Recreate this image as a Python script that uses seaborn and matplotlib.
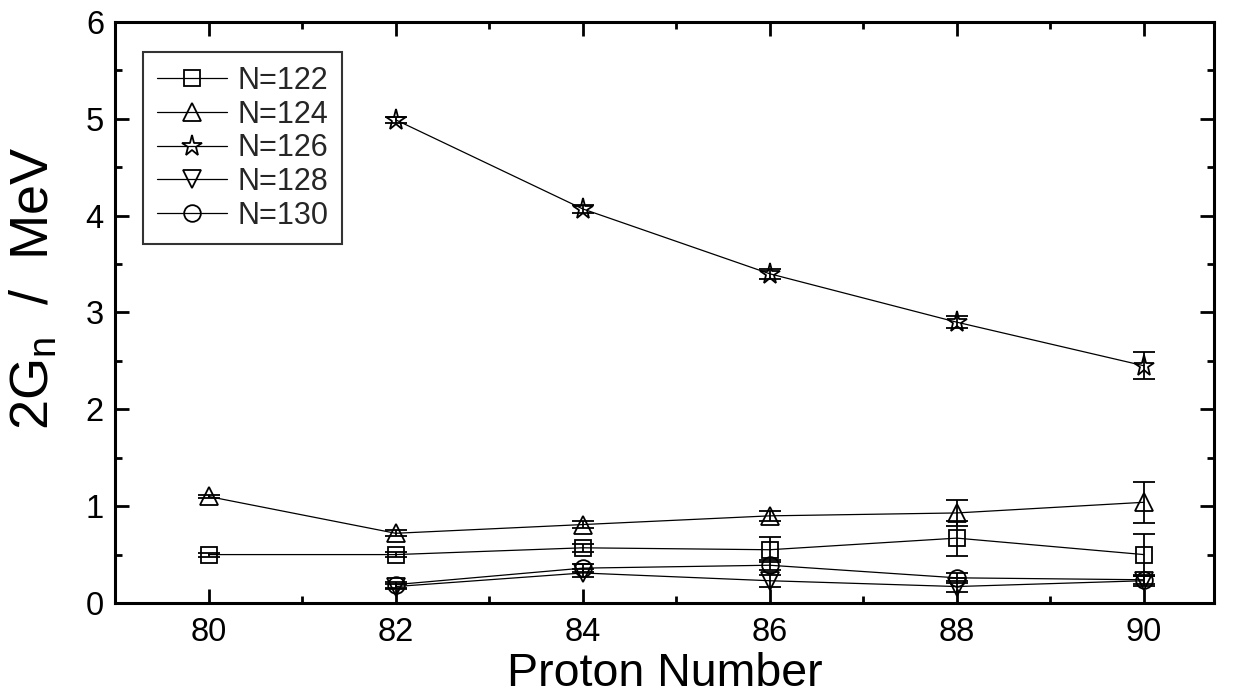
import matplotlib
matplotlib.use("Agg")
import matplotlib.pyplot as plt
from matplotlib.ticker import MultipleLocator
import seaborn as sns
import pandas as pd

# ---- data ----
proton = [80, 82, 84, 86, 88, 90]
n122 = [0.50, 0.50, 0.57, 0.55, 0.67, 0.50]
n122_err = [0.02, 0.03, 0.04, 0.13, 0.18, 0.21]
n124 = [1.10, 0.72, 0.81, 0.90, 0.93, 1.04]
n124_err = [0.02, 0.03, 0.04, 0.05, 0.13, 0.21]
proton_126 = [82, 84, 86, 88, 90]
n126 = [4.99, 4.07, 3.40, 2.90, 2.45]
n126_err = [0.03, 0.04, 0.05, 0.06, 0.14]
proton_high = [82, 84, 86, 88, 90]
n128 = [0.17, 0.31, 0.23, 0.17, 0.23]
n128_err = [0.03, 0.04, 0.06, 0.06, 0.05]
n130 = [0.19, 0.36, 0.39, 0.26, 0.24]
n130_err = [0.03, 0.04, 0.05, 0.05, 0.04]

labels = ["N=122", "N=124", "N=126", "N=128", "N=130"]
xs = [proton, proton, proton_126, proton_high, proton_high]
ys = [n122, n124, n126, n128, n130]
errs = [n122_err, n124_err, n126_err, n128_err, n130_err]
markers = ["s", "^", "*", "v", "o"]
msizes = [11, 13.5, 15.5, 13.5, 12]

sns.set_theme(style="ticks")
plt.rcParams["font.family"] = ["Liberation Sans", "DejaVu Sans"]
plt.rcParams["mathtext.default"] = "regular"

fig = plt.figure(figsize=(12.34, 6.98), dpi=100)
ax = fig.add_axes([0.0932, 0.1361, 0.8906, 0.8324])

for x, y, e, lab, m, ms in zip(xs, ys, errs, labels, markers, msizes):
    df = pd.DataFrame({"Z": x, "G": y})
    ax.errorbar(x, y, yerr=e, fmt="none", ecolor="black", elinewidth=1.3,
                capsize=8, capthick=1.3, zorder=2)
    sns.lineplot(data=df, x="Z", y="G", ax=ax, color="black", linewidth=0.9,
                 marker=m, markersize=ms, markerfacecolor="none",
                 markeredgecolor="black", markeredgewidth=1.3, label=lab,
                 zorder=3)

ax.set_xlim(79, 90.75)
ax.set_ylim(0, 6)
ax.xaxis.set_major_locator(MultipleLocator(2))
ax.xaxis.set_minor_locator(MultipleLocator(1))
ax.yaxis.set_major_locator(MultipleLocator(1))
ax.yaxis.set_minor_locator(MultipleLocator(0.5))
ax.tick_params(which="both", direction="in", top=True, right=True,
               width=2.0, labelsize=23.5, color="black", labelcolor="black")
ax.tick_params(which="major", length=10)
ax.tick_params(which="minor", length=5)
ax.tick_params(axis="x", pad=10)
ax.tick_params(axis="y", pad=8)
for s in ax.spines.values():
    s.set_linewidth(2.2)
    s.set_color("black")

ax.set_xlabel("Proton Number", fontsize=33.5, labelpad=3, color="black")
ax.set_ylabel("2G$_n$  /  MeV", fontsize=39, color="black")
ax.yaxis.set_label_coords(-0.05, 0.542)

leg = ax.legend(loc="upper left", bbox_to_anchor=(0.0255, 0.948), fontsize=22,
                frameon=True, fancybox=False, edgecolor="black",
                handlelength=2.3, handletextpad=0.33, labelspacing=0.12,
                borderpad=0.45, borderaxespad=0)
leg.get_frame().set_linewidth(1.5)

fig.savefig("out.png", dpi=100, facecolor="white")
